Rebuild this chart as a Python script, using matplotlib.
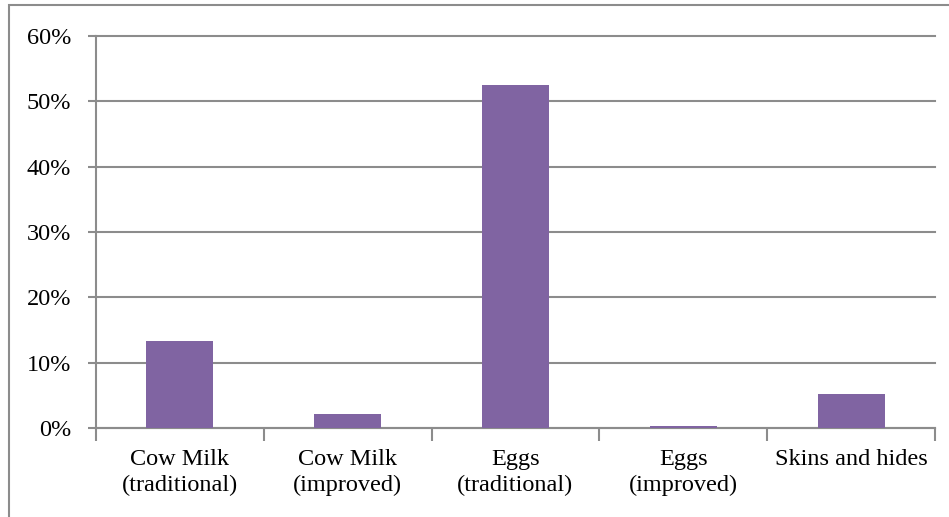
import matplotlib.pyplot as plt
from matplotlib.patches import Rectangle
from matplotlib.ticker import FuncFormatter

categories = ['Cow Milk\n(traditional)', 'Cow Milk\n(improved)', 'Eggs\n(traditional)',
              'Eggs\n(improved)', 'Skins and hides']
shares = [13.3, 2.1, 52.5, 0.3, 5.2]

plt.rcParams['font.family'] = ['Liberation Serif', 'DejaVu Serif']

fig = plt.figure(figsize=(9.49, 5.17), dpi=100)
# chart frame
fig.patches.append(Rectangle((9 / 949, -0.01), 1.0, (517 - 5) / 517 + 0.01,
                             transform=fig.transFigure, fill=False,
                             edgecolor='#8c8c8c', linewidth=1.5))

ax = fig.add_axes([96 / 949, 1 - 428 / 517, (935 - 96) / 949, (428 - 36) / 517])
x = range(len(categories))
ax.bar(x, shares, width=0.4, color='#8064a2', zorder=3)

ax.set_xlim(-0.5, len(categories) - 0.5)
ax.set_ylim(0, 60)
ax.set_yticks(range(0, 61, 10))
ax.yaxis.set_major_formatter(FuncFormatter(lambda v, p: '%d%%' % v))
ax.grid(axis='y', color='#8c8c8c', linewidth=1.5, zorder=0)
for gl in ax.get_ygridlines():
    gl.set_clip_on(False)

ax.set_xticks([i + 0.5 for i in range(-1, len(categories))])
ax.set_xticklabels([])
ax.set_xticks(list(x), minor=True)
ax.set_xticklabels(categories, minor=True, fontsize=17.5, linespacing=1.3)
ax.tick_params(axis='x', which='minor', length=0, pad=15)
ax.tick_params(axis='x', which='major', length=9, width=1.5, color='#8c8c8c')
ax.tick_params(axis='y', length=6, width=1.5, color='#8c8c8c', labelsize=17.5, pad=12)

for side in ['top', 'right']:
    ax.spines[side].set_visible(False)
for side in ['left', 'bottom']:
    ax.spines[side].set_color('#8c8c8c')
    ax.spines[side].set_linewidth(1.5)

fig.savefig('out.png', dpi=100)
